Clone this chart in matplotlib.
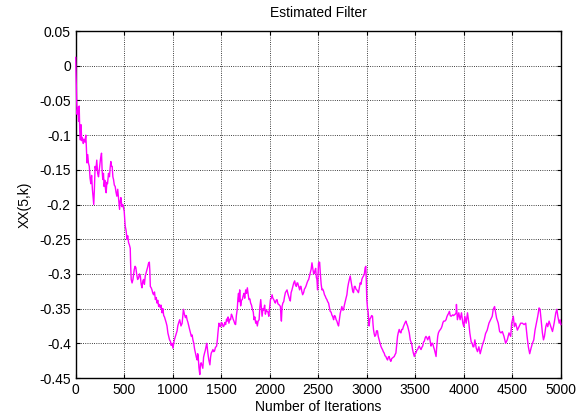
import numpy as np
import matplotlib
matplotlib.use("Agg")
import matplotlib.pyplot as plt

# values, iteration -> XX(5,k)
iters = [0, 8, 14, 22, 30, 36, 42, 48, 55, 62, 70, 78, 86, 95, 104, 110, 116, 124, 131, 140,
         148, 156, 164, 172, 180, 186, 192, 200, 208, 217, 226, 235, 245, 255, 266, 272, 279, 286, 293, 300,
         307, 314, 321, 328, 338, 348, 355, 362, 369, 376, 383, 390, 398, 407, 415, 424, 433, 442, 452, 459,
         466, 476, 486, 493, 500, 510, 520, 528, 536, 545, 553, 562, 567, 572, 581, 590, 597, 603, 612, 620,
         628, 638, 648, 657, 666, 675, 683, 692, 700, 708, 717, 726, 734, 742, 750, 759, 764, 769, 778, 786,
         795, 803, 812, 821, 830, 838, 846, 855, 863, 872, 880, 890, 898, 907, 915, 924, 932, 941, 950, 959,
         967, 976, 984, 993, 1003, 1010, 1017, 1028, 1038, 1045, 1052, 1062, 1072, 1085, 1097, 1104, 1110, 1120, 1131, 1140,
         1148, 1157, 1165, 1174, 1183, 1192, 1200, 1208, 1217, 1225, 1234, 1243, 1252, 1257, 1262, 1270, 1279, 1286, 1293, 1302,
         1310, 1318, 1328, 1336, 1345, 1350, 1355, 1362, 1372, 1383, 1390, 1397, 1405, 1414, 1422, 1431, 1440, 1452, 1460, 1466,
         1476, 1485, 1493, 1500, 1510, 1520, 1528, 1537, 1545, 1555, 1562, 1570, 1579, 1588, 1596, 1605, 1614, 1622, 1631, 1640,
         1648, 1656, 1665, 1672, 1678, 1684, 1690, 1700, 1708, 1717, 1725, 1734, 1742, 1752, 1760, 1769, 1778, 1786, 1795, 1803,
         1812, 1821, 1830, 1838, 1846, 1855, 1863, 1872, 1880, 1890, 1898, 1907, 1921, 1930, 1938, 1947, 1955, 1964, 1973, 1982,
         1990, 2000, 2007, 2016, 2024, 2032, 2041, 2050, 2058, 2066, 2075, 2084, 2092, 2100, 2110, 2115, 2120, 2127, 2135, 2144,
         2152, 2161, 2170, 2178, 2186, 2195, 2203, 2212, 2220, 2229, 2238, 2247, 2257, 2265, 2274, 2281, 2288, 2298, 2308, 2315,
         2322, 2330, 2339, 2349, 2357, 2366, 2375, 2384, 2392, 2401, 2410, 2418, 2427, 2435, 2445, 2452, 2459, 2466, 2473, 2480,
         2486, 2493, 2498, 2503, 2514, 2521, 2530, 2538, 2546, 2555, 2564, 2572, 2580, 2589, 2597, 2606, 2615, 2623, 2632, 2640,
         2650, 2658, 2666, 2675, 2684, 2692, 2700, 2709, 2718, 2726, 2735, 2743, 2752, 2760, 2769, 2777, 2786, 2795, 2803, 2812,
         2820, 2829, 2837, 2846, 2855, 2863, 2872, 2880, 2889, 2897, 2906, 2914, 2923, 2932, 2940, 2949, 2957, 2966, 2975, 2983,
         2990, 2995, 3000, 3008, 3014, 3020, 3024, 3032, 3041, 3050, 3059, 3064, 3069, 3076, 3083, 3093, 3100, 3110, 3118, 3128,
         3137, 3145, 3154, 3162, 3170, 3179, 3188, 3197, 3205, 3214, 3222, 3231, 3240, 3248, 3257, 3266, 3274, 3283, 3292, 3300,
         3306, 3310, 3317, 3324, 3334, 3343, 3352, 3360, 3369, 3377, 3386, 3395, 3403, 3412, 3421, 3430, 3438, 3448, 3455, 3462,
         3472, 3480, 3490, 3498, 3507, 3515, 3524, 3532, 3541, 3550, 3559, 3567, 3576, 3585, 3593, 3602, 3610, 3619, 3628, 3636,
         3645, 3653, 3662, 3670, 3679, 3688, 3697, 3705, 3714, 3719, 3724, 3731, 3738, 3748, 3759, 3768, 3776, 3785, 3793, 3805,
         3817, 3825, 3834, 3843, 3852, 3860, 3869, 3878, 3886, 3895, 3903, 3912, 3921, 3924, 3934, 3948, 3962, 3976, 3990, 4000,
         4010, 4024, 4038, 4052, 4062, 4076, 4086, 4095, 4103, 4114, 4128, 4141, 4155, 4169, 4183, 4197, 4210, 4224, 4241, 4259,
         4276, 4293, 4303, 4317, 4328, 4338, 4355, 4369, 4383, 4397, 4414, 4431, 4448, 4466, 4483, 4493, 4510, 4521, 4534, 4552,
         4569, 4586, 4603, 4621, 4638, 4652, 4665, 4679, 4693, 4707, 4721, 4734, 4748, 4762, 4776, 4786, 4797, 4810, 4821, 4831,
         4845, 4855, 4865, 4879, 4897, 4914, 4931, 4948, 4959, 4969, 4983, 4993, 5000]

xx5 = [0.012, -0.04, -0.07, -0.06, -0.08, -0.058, -0.095, -0.107, -0.085, -0.108, -0.104, -0.112, -0.106, -0.11, -0.1, -0.118, -0.14, -0.128, -0.14, -0.145,
       -0.162, -0.17, -0.158, -0.178, -0.19, -0.2, -0.18, -0.145, -0.15, -0.136, -0.155, -0.16, -0.148, -0.135, -0.126, -0.15, -0.164, -0.155, -0.174, -0.165,
       -0.178, -0.183, -0.168, -0.17, -0.155, -0.16, -0.147, -0.138, -0.145, -0.145, -0.16, -0.164, -0.172, -0.174, -0.182, -0.188, -0.178, -0.192, -0.207, -0.195,
       -0.19, -0.203, -0.2, -0.205, -0.21, -0.231, -0.238, -0.25, -0.245, -0.255, -0.258, -0.263, -0.29, -0.308, -0.313, -0.308, -0.3, -0.294, -0.289, -0.291,
       -0.3, -0.308, -0.306, -0.3, -0.303, -0.315, -0.32, -0.31, -0.308, -0.315, -0.303, -0.298, -0.294, -0.29, -0.285, -0.283, -0.295, -0.318, -0.32, -0.323,
       -0.328, -0.33, -0.326, -0.337, -0.334, -0.342, -0.338, -0.347, -0.344, -0.349, -0.345, -0.356, -0.35, -0.36, -0.362, -0.366, -0.37, -0.375, -0.385, -0.39,
       -0.395, -0.397, -0.403, -0.4, -0.407, -0.4, -0.395, -0.39, -0.385, -0.382, -0.375, -0.37, -0.366, -0.375, -0.371, -0.36, -0.351, -0.358, -0.363, -0.36,
       -0.366, -0.37, -0.375, -0.38, -0.385, -0.39, -0.388, -0.395, -0.4, -0.408, -0.414, -0.42, -0.424, -0.415, -0.418, -0.435, -0.445, -0.43, -0.428, -0.432,
       -0.436, -0.42, -0.414, -0.41, -0.404, -0.4, -0.405, -0.414, -0.424, -0.431, -0.42, -0.414, -0.412, -0.409, -0.412, -0.411, -0.406, -0.404, -0.395, -0.385,
       -0.371, -0.375, -0.376, -0.37, -0.371, -0.376, -0.375, -0.37, -0.373, -0.365, -0.368, -0.362, -0.371, -0.365, -0.366, -0.358, -0.361, -0.365, -0.368, -0.372,
       -0.373, -0.36, -0.351, -0.335, -0.328, -0.34, -0.323, -0.346, -0.338, -0.337, -0.332, -0.328, -0.335, -0.323, -0.328, -0.32, -0.33, -0.337, -0.336, -0.342,
       -0.345, -0.351, -0.355, -0.366, -0.362, -0.371, -0.368, -0.375, -0.368, -0.366, -0.348, -0.337, -0.361, -0.35, -0.352, -0.345, -0.358, -0.352, -0.354, -0.355,
       -0.361, -0.347, -0.337, -0.335, -0.33, -0.335, -0.337, -0.34, -0.342, -0.338, -0.337, -0.343, -0.344, -0.345, -0.347, -0.36, -0.368, -0.347, -0.342, -0.34,
       -0.333, -0.327, -0.325, -0.323, -0.328, -0.332, -0.336, -0.339, -0.327, -0.323, -0.318, -0.313, -0.31, -0.316, -0.318, -0.313, -0.313, -0.318, -0.323, -0.318,
       -0.318, -0.325, -0.33, -0.327, -0.322, -0.32, -0.317, -0.313, -0.31, -0.308, -0.303, -0.299, -0.293, -0.284, -0.294, -0.3, -0.299, -0.295, -0.292, -0.305,
       -0.308, -0.323, -0.3, -0.284, -0.283, -0.299, -0.315, -0.323, -0.322, -0.325, -0.33, -0.332, -0.335, -0.337, -0.34, -0.342, -0.348, -0.354, -0.355, -0.359,
       -0.362, -0.366, -0.36, -0.361, -0.366, -0.368, -0.372, -0.375, -0.365, -0.357, -0.352, -0.347, -0.352, -0.352, -0.345, -0.34, -0.335, -0.33, -0.32, -0.313,
       -0.308, -0.303, -0.31, -0.318, -0.325, -0.327, -0.318, -0.318, -0.322, -0.323, -0.325, -0.327, -0.32, -0.313, -0.315, -0.308, -0.305, -0.303, -0.3, -0.291,
       -0.289, -0.31, -0.337, -0.35, -0.355, -0.368, -0.375, -0.365, -0.363, -0.36, -0.361, -0.372, -0.38, -0.386, -0.39, -0.388, -0.382, -0.382, -0.39, -0.395,
       -0.4, -0.404, -0.407, -0.409, -0.412, -0.414, -0.418, -0.419, -0.422, -0.424, -0.42, -0.419, -0.424, -0.426, -0.422, -0.421, -0.42, -0.419, -0.416, -0.414,
       -0.405, -0.4, -0.39, -0.385, -0.38, -0.384, -0.385, -0.38, -0.38, -0.376, -0.373, -0.37, -0.368, -0.372, -0.375, -0.38, -0.385, -0.395, -0.398, -0.4,
       -0.409, -0.414, -0.419, -0.414, -0.414, -0.41, -0.409, -0.406, -0.404, -0.407, -0.409, -0.406, -0.404, -0.398, -0.397, -0.392, -0.39, -0.392, -0.395, -0.392,
       -0.39, -0.397, -0.404, -0.4, -0.4, -0.405, -0.409, -0.414, -0.419, -0.408, -0.4, -0.39, -0.385, -0.382, -0.38, -0.378, -0.375, -0.37, -0.368, -0.368,
       -0.366, -0.362, -0.359, -0.357, -0.354, -0.36, -0.361, -0.36, -0.359, -0.36, -0.359, -0.358, -0.356, -0.344, -0.366, -0.356, -0.366, -0.356, -0.371, -0.376,
       -0.361, -0.371, -0.356, -0.371, -0.385, -0.398, -0.4, -0.405, -0.405, -0.395, -0.407, -0.412, -0.405, -0.415, -0.407, -0.4, -0.395, -0.386, -0.381, -0.371,
       -0.366, -0.361, -0.351, -0.347, -0.356, -0.364, -0.371, -0.383, -0.385, -0.383, -0.39, -0.4, -0.395, -0.385, -0.39, -0.371, -0.361, -0.376, -0.371, -0.381,
       -0.376, -0.371, -0.371, -0.373, -0.371, -0.39, -0.405, -0.415, -0.407, -0.4, -0.395, -0.381, -0.371, -0.361, -0.349, -0.351, -0.366, -0.385, -0.395, -0.39,
       -0.376, -0.371, -0.376, -0.368, -0.376, -0.383, -0.371, -0.356, -0.351, -0.361, -0.371, -0.366, -0.373]

xticks = [0, 500, 1000, 1500, 2000, 2500, 3000, 3500, 4000, 4500, 5000]
yticks = [0.05, 0, -0.05, -0.1, -0.15, -0.2, -0.25, -0.3, -0.35, -0.4, -0.45]
ylabels = ['0.05', '0', '-0.05', '-0.1', '-0.15', '-0.2', '-0.25', '-0.3', '-0.35', '-0.4', '-0.45']

plt.rcParams['font.family'] = ['Liberation Sans', 'DejaVu Sans']

fig = plt.figure(figsize=(5.81, 4.17), dpi=100)
ax = fig.add_axes([0.1303, 0.0935, 0.835, 0.832])

# drawn over the spines like matlab does, so the start at k=0 shows
ax.plot(iters, xx5, color='#ff00ff', linewidth=1.0, zorder=3, clip_on=False)

ax.set_xlim(0, 5000)
ax.set_ylim(-0.45, 0.05)
ax.set_xticks(xticks)
ax.set_yticks(yticks)
ax.set_yticklabels(ylabels)
ax.grid(True, color='black', linestyle=':', linewidth=0.6)
ax.tick_params(direction='in', top=True, right=True, labelsize=10, length=3, pad=3.5)
for s in ax.spines.values():
    s.set_linewidth(1.0)

ax.set_title('Estimated Filter', fontsize=10, pad=10)
ax.set_xlabel('Number of Iterations', fontsize=10, labelpad=2.5)
ax.set_ylabel('XX(5,k)', fontsize=10, labelpad=5)

fig.savefig('out.png', dpi=100)
